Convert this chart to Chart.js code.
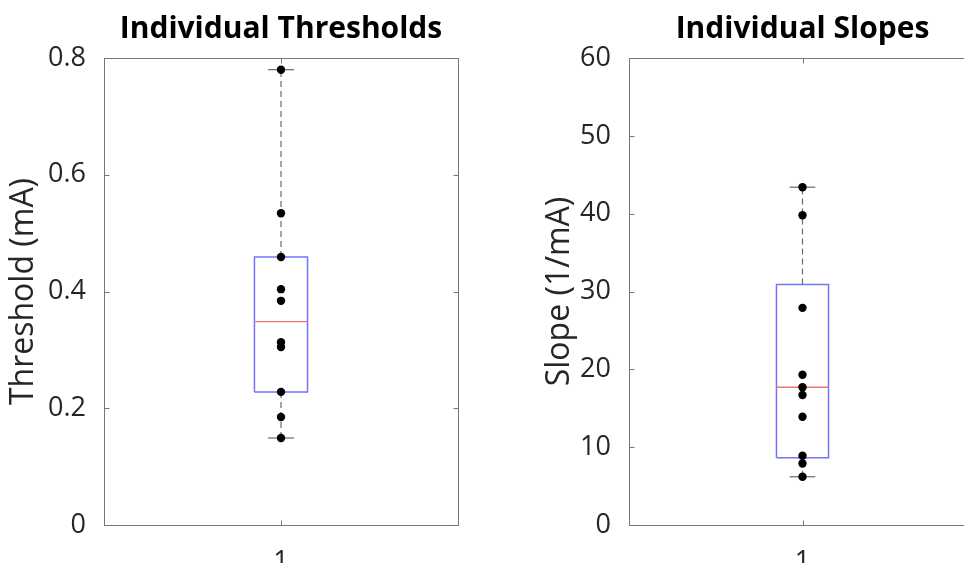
<!DOCTYPE html>
<html>
<head>
<meta charset="utf-8">
<script src="https://cdn.jsdelivr.net/npm/chart.js@4.4.1/dist/chart.umd.min.js"></script>
<style>
  html, body { margin: 0; padding: 0; background: #fff; overflow: hidden; width: 964px; height: 563px; }
  canvas { position: absolute; top: 0; }
  #thresholdChart { left: 0; }
  #slopeChart { left: 482px; }
</style>
</head>
<body>
<canvas id="thresholdChart" width="562" height="563"></canvas>
<canvas id="slopeChart" width="641" height="563"></canvas>
<script>
const groupLabels = ['1'];
const thresholdValues = [0.78, 0.534, 0.459, 0.404, 0.384, 0.313, 0.305, 0.228, 0.185, 0.149];
// whisker low, q1, median, q3, whisker high
const thresholdStats = [0.149, 0.228, 0.3485, 0.459, 0.78];
const thresholdTicks = [0, 0.2, 0.4, 0.6, 0.8];
const slopeValues = [43.4, 39.8, 27.9, 19.3, 17.7, 16.7, 13.9, 8.9, 7.9, 6.2];
const slopeStats = [6.2, 8.65, 17.7, 30.9, 43.4];
const slopeTicks = [0, 10, 20, 30, 40, 50, 60];

const boxHalf = 0.075;
const capHalf = 0.037;

// matlab style frame with inward ticks, title centred over the axes
const matlabAxes = {
    id: 'matlabAxes',
    afterDraw(chart, args, opts) {
        const { ctx, chartArea: a, scales } = chart;
        const L = Math.round(a.left) + 0.5, R = Math.round(a.right) + 0.5;
        const T = Math.round(a.top) + 0.5, B = Math.round(a.bottom) + 0.5;
        ctx.save();
        ctx.strokeStyle = '#777';
        ctx.lineWidth = 1;
        ctx.strokeRect(L, T, R - L, B - T);
        ctx.beginPath();
        scales.y.ticks.forEach(t => {
            const y = Math.round(scales.y.getPixelForValue(t.value)) + 0.5;
            ctx.moveTo(L, y); ctx.lineTo(L + 5, y);
            ctx.moveTo(R, y); ctx.lineTo(R - 5, y);
        });
        scales.x.ticks.forEach(t => {
            const x = Math.round(scales.x.getPixelForValue(t.value)) + 0.5;
            ctx.moveTo(x, B); ctx.lineTo(x, B - 5);
            ctx.moveTo(x, T); ctx.lineTo(x, T + 5);
        });
        ctx.stroke();

        ctx.fillStyle = '#000';
        ctx.font = 'bold 30px "Open Sans"';
        ctx.textAlign = 'center';
        ctx.textBaseline = 'alphabetic';
        ctx.fillText(opts.text, (a.left + a.right) / 2, 38);
        ctx.restore();
    }
};

function segment(x0, y0, x1, y1, color, width, dash) {
    return {
        data: [{ x: x0, y: y0 }, { x: x1, y: y1 }],
        showLine: true, pointRadius: 0, borderColor: color, borderWidth: width,
        borderDash: dash || [], tension: 0, fill: false
    };
}

function makeBoxChart(id, title, yTitle, values, stats, ticks, leftWidth, rightPad, yTitlePad) {
    const pos = Number(groupLabels[0]);
    const [lo, q1, med, q3, hi] = stats;
    const x0 = pos - boxHalf, x1 = pos + boxHalf;

    new Chart(document.getElementById(id), {
        type: 'scatter',
        data: {
            datasets: [
                {
                    data: values.map(v => ({ x: pos, y: v })),
                    pointRadius: 4.2, pointBackgroundColor: '#000', pointBorderWidth: 0, showLine: false
                },
                segment(x0, med, x1, med, '#f07575', 1.3),
                {
                    data: [{ x: x0, y: q1 }, { x: x1, y: q1 }, { x: x1, y: q3 }, { x: x0, y: q3 }, { x: x0, y: q1 }],
                    showLine: true, pointRadius: 0, borderColor: '#7373ff', borderWidth: 1.5,
                    tension: 0, fill: false, borderJoinStyle: 'miter'
                },
                segment(pos, q3, pos, hi, '#6a6a6a', 1.2, [6, 4]),
                segment(pos, lo, pos, q1, '#6a6a6a', 1.2, [6, 4]),
                segment(pos - capHalf, hi, pos + capHalf, hi, '#6a6a6a', 1.2),
                segment(pos - capHalf, lo, pos + capHalf, lo, '#6a6a6a', 1.2)
            ]
        },
        options: {
            responsive: false,
            animation: false,
            devicePixelRatio: 1,
            layout: { padding: { top: 58, right: rightPad, left: 0, bottom: 0 } },
            plugins: {
                legend: { display: false },
                tooltip: { enabled: false },
                title: { display: false },
                matlabAxes: { text: title }
            },
            scales: {
                x: {
                    type: 'linear', min: 0.5, max: 1.5,
                    grid: { display: false }, border: { display: false },
                    afterBuildTicks: s => { s.ticks = groupLabels.map(l => ({ value: Number(l) })); },
                    afterFit: s => { s.height = 38; },
                    ticks: {
                        color: '#262626', padding: 13,
                        font: { family: 'Open Sans', size: 27 },
                        callback: v => String(v)
                    }
                },
                y: {
                    type: 'linear', position: 'left', min: ticks[0], max: ticks[ticks.length - 1],
                    grid: { display: false }, border: { display: false },
                    afterBuildTicks: s => { s.ticks = ticks.map(v => ({ value: v })); },
                    afterFit: s => { s.width = leftWidth; },
                    ticks: {
                        color: '#262626', padding: 10,
                        font: { family: 'Open Sans', size: 27 },
                        callback: v => String(v)
                    },
                    title: {
                        display: true, text: yTitle, color: '#262626',
                        font: { family: 'Open Sans', size: 32, lineHeight: 1.2 },
                        padding: { top: yTitlePad, bottom: 0 }
                    }
                }
            }
        },
        plugins: [matlabAxes]
    });
}

makeBoxChart('thresholdChart', 'Individual Thresholds', 'Threshold (mA)',
    thresholdValues, thresholdStats, thresholdTicks, 104, 104, 4.8);
makeBoxChart('slopeChart', 'Individual Slopes', 'Slope (1/mA)',
    slopeValues, slopeStats, slopeTicks, 147, 147, 58.3);
</script>
</body>
</html>
